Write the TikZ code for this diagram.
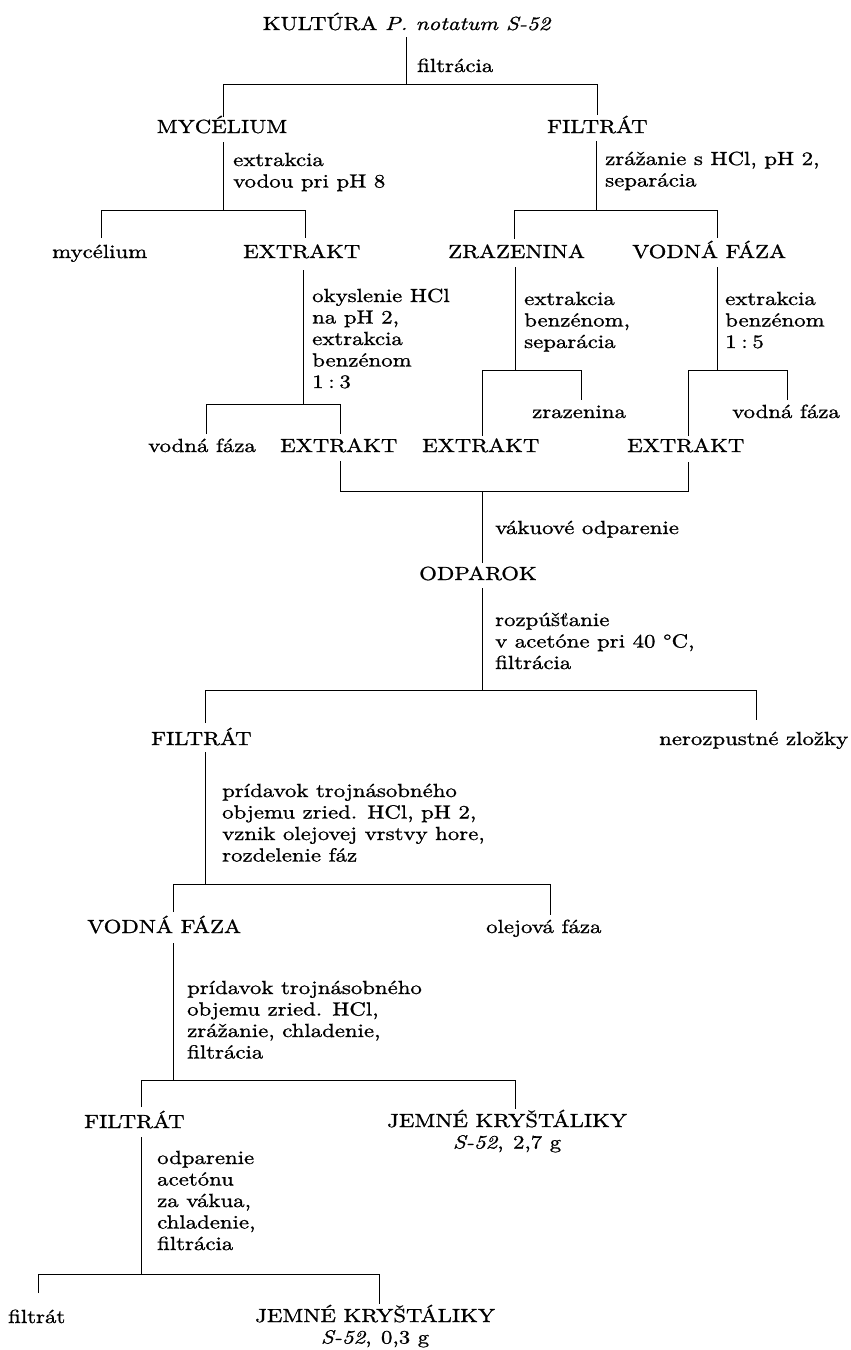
\documentclass[tikz,border=0pt]{standalone}
\usepackage{fontspec}
\setmainfont{lmroman10-regular}[Extension=.otf, ItalicFont=lmroman10-italic, BoldFont=lmroman10-bold, BoldItalicFont=lmroman10-bolditalic, FakeStretch=1.2, FakeBold=1.0]
\newcommand{\lns}[1]{\begin{tabular}[t]{@{}l@{}}#1\end{tabular}}
\newcommand{\clns}[1]{\begin{tabular}[t]{@{}c@{}}#1\end{tabular}}
\newcommand{\ratio}[2]{#1\hspace{.25em}:\hspace{.25em}#2}
\begin{document}
\begin{tikzpicture}[x=1pt,y=-1pt,
  every node/.style={font=\fontsize{19}{21.5}\selectfont, inner sep=0pt},
  txt/.style={anchor=base west},
  ctxt/.style={anchor=base},
  ln/.style={line width=0.9pt, black}]
\fill[white] (0,0) rectangle (851,1350);
\useasboundingbox (0,0) rectangle (851,1350);

% ---- text nodes ----
\node[ctxt] (t0) at (407,30) {KULTÚRA \textit{P. notatum S-52}};
\node[txt] (f0) at (417,72) {filtrácia};
\node[ctxt] (myc) at (222,133) {MYCÉLIUM};
\node[txt] (fil1) at (547,133) {FILTRÁT};
\node[txt] (d2) at (233,166) {\lns{extrakcia\\vodou pri pH 8}};
\node[txt] (d3) at (605,165) {\lns{zrážanie s HCl, pH 2,\\separácia}};
\node[txt] (myc2) at (52,258) {mycélium};
\node[txt] (ext1) at (243,258) {EXTRAKT};
\node[txt] (zr) at (448,258) {ZRAZENINA};
\node[txt] (vf1) at (632,258) {VODNÁ FÁZA};
\node[txt] (d4) at (312,302) {\lns{okyslenie HCl\\na pH 2,\\extrakcia\\benzénom\\\ratio{1}{3}}};
\node[txt] (d5) at (524,305) {\lns{extrakcia\\benzénom,\\separácia}};
\node[txt] (d6) at (725,305) {\lns{extrakcia\\benzénom\\\ratio{1}{5}}};
\node[txt] (zr2) at (532,418) {zrazenina};
\node[txt] (vf2) at (732,418) {vodná fáza};
\node[txt] (vf3) at (148,452) {vodná fáza};
\node[txt] (ext2) at (280,452) {EXTRAKT};
\node[txt] (ext3) at (422,452) {EXTRAKT};
\node[txt] (ext4) at (627,452) {EXTRAKT};
\node[txt] (d7) at (495,534) {vákuové odparenie};
\node[txt] (odp) at (419,580) {ODPAROK};
\node[txt] (d8) at (495,626) {\lns{rozpúšťanie\\v acetóne pri 40 °C,\\filtrácia}};
\node[txt] (fil2) at (151,745) {FILTRÁT};
\node[txt] (ner) at (659,745) {nerozpustné zložky};
\node[txt] (d9) at (222,797) {\lns{prídavok trojnásobného\\objemu zried. HCl, pH 2,\\vznik olejovej vrstvy hore,\\rozdelenie fáz}};
\node[txt] (vf4) at (87,933) {VODNÁ FÁZA};
\node[txt] (ol) at (486,933) {olejová fáza};
\node[txt] (d10) at (187,994) {\lns{prídavok trojnásobného\\objemu zried. HCl,\\zrážanie, chladenie,\\filtrácia}};
\node[txt] (fil3) at (84,1128) {FILTRÁT};
\node[txt] (jk1) at (387,1127) {\clns{JEMNÉ KRYŠTÁLIKY\\\textit{S-52},\hspace{.5em}2,7 g}};
\node[txt] (d11) at (157,1164) {\lns{odparenie\\acetónu\\za vákua,\\chladenie,\\filtrácia}};
\node[txt] (ft) at (8,1323) {filtrát};
\node[txt] (jk2) at (255,1322) {\clns{JEMNÉ KRYŠTÁLIKY\\\textit{S-52},\hspace{.5em}0,3 g}};

% ---- connector points ----
\coordinate (s1p) at (406,37);  \coordinate (s1j) at (406,84);
\coordinate (s1l) at (223,84);  \coordinate (s1r) at (597,84);
\coordinate (s1a) at (223,117); \coordinate (s1b) at (597,115);

\coordinate (s2p) at (223,142); \coordinate (s2j) at (223,210);
\coordinate (s2l) at (101,210); \coordinate (s2r) at (305,210);
\coordinate (s2a) at (101,238); \coordinate (s2b) at (305,238);

\coordinate (s3p) at (596,141); \coordinate (s3j) at (596,210);
\coordinate (s3l) at (514,210); \coordinate (s3r) at (717,210);
\coordinate (s3a) at (514,239); \coordinate (s3b) at (717,238);

\coordinate (s4p) at (303,270); \coordinate (s4j) at (303,404);
\coordinate (s4l) at (206,404); \coordinate (s4r) at (340,404);
\coordinate (s4a) at (206,434); \coordinate (s4b) at (340,434);

\coordinate (s5p) at (515,267); \coordinate (s5j) at (515,370);
\coordinate (s5l) at (482,370); \coordinate (s5r) at (581,370);
\coordinate (s5a) at (482,436); \coordinate (s5b) at (581,400);

\coordinate (s6p) at (717,267); \coordinate (s6j) at (717,370);
\coordinate (s6l) at (688,370); \coordinate (s6r) at (787,370);
\coordinate (s6a) at (688,436); \coordinate (s6b) at (787,400);

\coordinate (j1a) at (340,461); \coordinate (j1l) at (340,491);
\coordinate (j1b) at (688,462); \coordinate (j1r) at (688,491);
\coordinate (j1m) at (482,491); \coordinate (j1o) at (482,563);

\coordinate (s7p) at (482,588); \coordinate (s7j) at (482,690);
\coordinate (s7l) at (205,690); \coordinate (s7r) at (756,690);
\coordinate (s7a) at (205,723); \coordinate (s7b) at (756,720);

\coordinate (s8p) at (205,752); \coordinate (s8j) at (205,884);
\coordinate (s8l) at (173,884); \coordinate (s8r) at (550,884);
\coordinate (s8a) at (173,912); \coordinate (s8b) at (550,915);

\coordinate (s9p) at (173,943); \coordinate (s9j) at (173,1080);
\coordinate (s9l) at (141,1080); \coordinate (s9r) at (515,1080);
\coordinate (s9a) at (141,1107); \coordinate (s9b) at (515,1109);

\coordinate (s10p) at (141,1137); \coordinate (s10j) at (141,1274);
\coordinate (s10l) at (38,1274);  \coordinate (s10r) at (379,1274);
\coordinate (s10a) at (38,1293);  \coordinate (s10b) at (379,1304);

% ---- connectors ----
\draw[ln] (s1p) -- (s1j);   \draw[ln] (s1a) -- (s1l) -- (s1r) -- (s1b);
\draw[ln] (s2p) -- (s2j);   \draw[ln] (s2a) -- (s2l) -- (s2r) -- (s2b);
\draw[ln] (s3p) -- (s3j);   \draw[ln] (s3a) -- (s3l) -- (s3r) -- (s3b);
\draw[ln] (s4p) -- (s4j);   \draw[ln] (s4a) -- (s4l) -- (s4r) -- (s4b);
\draw[ln] (s5p) -- (s5j);   \draw[ln] (s5a) -- (s5l) -- (s5r) -- (s5b);
\draw[ln] (s6p) -- (s6j);   \draw[ln] (s6a) -- (s6l) -- (s6r) -- (s6b);
\draw[ln] (j1a) -- (j1l) -- (j1r) -- (j1b);  \draw[ln] (j1m) -- (j1o);
\draw[ln] (s7p) -- (s7j);   \draw[ln] (s7a) -- (s7l) -- (s7r) -- (s7b);
\draw[ln] (s8p) -- (s8j);   \draw[ln] (s8a) -- (s8l) -- (s8r) -- (s8b);
\draw[ln] (s9p) -- (s9j);   \draw[ln] (s9a) -- (s9l) -- (s9r) -- (s9b);
\draw[ln] (s10p) -- (s10j); \draw[ln] (s10a) -- (s10l) -- (s10r) -- (s10b);
\end{tikzpicture}
\end{document}
